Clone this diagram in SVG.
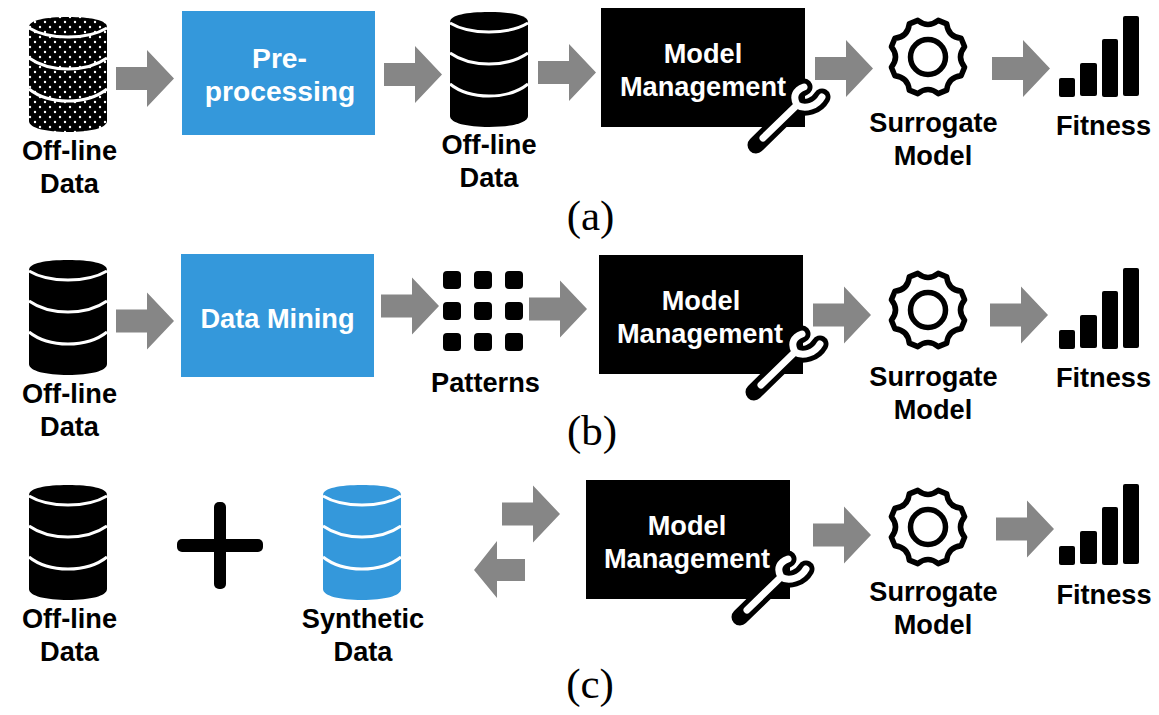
<svg xmlns="http://www.w3.org/2000/svg" width="1159" height="715" viewBox="0 0 1159 715">
<style>
text{font-family:"Liberation Sans",Arial,sans-serif;font-weight:700;font-size:27.200px;text-anchor:middle;fill:#000}
text.w{fill:#fff}
text.big{font-size:28.200px}
text.cap{font-family:"Liberation Serif","Times New Roman",serif;font-weight:400;font-size:43px}
.blue{fill:#3498db}
.box{fill:#000}
.arrow{fill:#868686}
</style>
<defs>
<pattern id="dots" width="10" height="10" patternUnits="userSpaceOnUse" patternTransform="translate(29 17)">
<rect width="10" height="10" fill="#000"/><circle cx="2" cy="3" r="1.200" fill="#fff"/><circle cx="7" cy="8" r="1.200" fill="#fff"/>
</pattern>
<path id="dbshape" d="M0 10C0 3 17 0 39 0S78 3 78 10V104C78 111 61 115 39 115S0 111 0 104Z"/>
<g id="dblines" fill="none" stroke="#fff" stroke-width="3">
<path d="M0 11C10 17 24 20 39 20S68 17 78 11"/>
<path d="M0 41C10 48 24 52 39 52S68 48 78 41"/>
<path d="M0 72C10 80 24 84 39 84S68 80 78 72"/>
</g>
<path id="arrow" d="M0 -11.500H31V-28.500L58 0L31 28.500V11.500H0Z"/>
<g id="gear" fill="none" stroke="#000" stroke-width="5.500" stroke-linejoin="round">
<path d="M36.600 10.200L33.100 18.700Q20.100 20.100 18.700 33.100L10.200 36.600Q0 28.400 -10.200 36.600L-18.700 33.100Q-20.100 20.100 -33.100 18.700L-36.600 10.200Q-28.400 0 -36.600 -10.200L-33.100 -18.700Q-20.100 -20.100 -18.700 -33.100L-10.200 -36.600Q0 -28.400 10.200 -36.600L18.700 -33.100Q20.100 -20.100 33.100 -18.700L36.600 -10.200Q28.400 0 36.600 10.200Z"/>
<circle r="17.500"/>
</g>
<g id="bars">
<rect x="0" y="62" width="16" height="19" rx="2"/>
<rect x="21" y="47" width="17" height="33" rx="2"/>
<rect x="43" y="23" width="16" height="58" rx="2"/>
<rect x="64" y="0" width="16" height="80" rx="2"/>
</g>
<g id="wrench" fill="none" stroke-linecap="round" stroke-linejoin="round">
<path stroke="#000" stroke-width="17" d="M0 0L41 -40C36 -49 40 -55 48 -58M41 -40C49 -35 61 -39 66 -48"/>
<path stroke="#fff" stroke-width="7" d="M7 -7L41 -40C36 -49 40 -55 48 -58M41 -40C49 -35 61 -39 66 -48"/>
</g>
<g id="dotgrid">
<rect x="0" y="0" width="18" height="18" rx="4"/><rect x="31" y="0" width="18" height="18" rx="4"/><rect x="62" y="0" width="18" height="18" rx="4"/>
<rect x="0" y="31" width="18" height="18" rx="4"/><rect x="31" y="31" width="18" height="18" rx="4"/><rect x="62" y="31" width="18" height="18" rx="4"/>
<rect x="0" y="62" width="18" height="18" rx="4"/><rect x="31" y="62" width="18" height="18" rx="4"/><rect x="62" y="62" width="18" height="18" rx="4"/>
</g>
</defs>

<g id="connectors" class="arrow">
<use href="#arrow" x="116" y="78.500"/>
<use href="#arrow" x="384" y="74.500"/>
<use href="#arrow" x="538" y="72.500"/>
<use href="#arrow" x="815" y="68.500"/>
<use href="#arrow" x="992" y="68.500"/>
<use href="#arrow" x="116" y="321"/>
<use href="#arrow" x="381" y="306"/>
<use href="#arrow" x="529" y="309"/>
<use href="#arrow" x="813" y="315"/>
<use href="#arrow" x="990" y="315"/>
<use href="#arrow" x="502" y="514"/>
<path d="M525 559H497V541L474 570L497 598V581H525Z"/>
<use href="#arrow" x="813" y="535"/>
<use href="#arrow" x="996" y="529"/>
</g>

<g id="a-db1"><use href="#dbshape" x="29" y="17" fill="url(#dots)"/><use href="#dblines" x="29" y="17"/><text x="69.500" y="160">Off-line</text><text x="69.500" y="193">Data</text></g>
<g id="a-pre"><rect class="blue" x="182" y="11" width="193" height="124"/><text class="w big" x="279.500" y="68">Pre-</text><text class="w big" x="280" y="101">processing</text></g>
<g id="a-db2"><use href="#dbshape" x="450" y="12"/><use href="#dblines" x="450" y="12"/><text x="489" y="154">Off-line</text><text x="489" y="187">Data</text></g>
<g id="a-mm"><rect class="box" x="601" y="8" width="204" height="119"/><text class="w" x="703" y="63">Model</text><text class="w" x="703" y="96">Management</text><use href="#wrench" x="756" y="145"/></g>
<g id="a-gear"><use href="#gear" x="928" y="57"/><text x="933.500" y="132">Surrogate</text><text x="933" y="165">Model</text></g>
<g id="a-fit"><use href="#bars" x="1059" y="16"/><text x="1103.500" y="135">Fitness</text></g>
<text id="a-cap" class="cap" x="590.500" y="230">(a)</text>

<g id="b-db"><use href="#dbshape" x="29" y="260"/><use href="#dblines" x="29" y="260"/><text x="69.500" y="403">Off-line</text><text x="69.500" y="436">Data</text></g>
<g id="b-dm"><rect class="blue" x="181" y="254" width="193" height="123"/><text class="w" x="277.500" y="328">Data Mining</text></g>
<g id="b-pat"><use href="#dotgrid" x="443" y="271"/><text x="485.500" y="392">Patterns</text></g>
<g id="b-mm"><rect class="box" x="599" y="255" width="204" height="119"/><text class="w" x="701" y="310">Model</text><text class="w" x="700" y="343">Management</text><use href="#wrench" x="754" y="392"/></g>
<g id="b-gear"><use href="#gear" x="928" y="310"/><text x="933.500" y="386">Surrogate</text><text x="933" y="419">Model</text></g>
<g id="b-fit"><use href="#bars" x="1059" y="268"/><text x="1103.500" y="387">Fitness</text></g>
<text id="b-cap" class="cap" x="592" y="445">(b)</text>

<g id="c-db1"><use href="#dbshape" x="29" y="485"/><use href="#dblines" x="29" y="485"/><text x="69.500" y="628">Off-line</text><text x="69.500" y="661">Data</text></g>
<g id="c-plus"><rect x="177" y="539" width="86" height="13" rx="5"/><rect x="214" y="502" width="12" height="87" rx="5"/></g>
<g id="c-db2"><use href="#dbshape" class="blue" x="323" y="485"/><use href="#dblines" x="323" y="485"/><text x="363" y="628">Synthetic</text><text x="363" y="661">Data</text></g>
<g id="c-mm"><rect class="box" x="586" y="480" width="204" height="119"/><text class="w" x="687" y="535">Model</text><text class="w" x="687" y="568">Management</text><use href="#wrench" x="740" y="617"/></g>
<g id="c-gear"><use href="#gear" x="928" y="527"/><text x="933.500" y="601">Surrogate</text><text x="933" y="634">Model</text></g>
<g id="c-fit"><use href="#bars" x="1059" y="484"/><text x="1104" y="604">Fitness</text></g>
<text id="c-cap" class="cap" x="590" y="698">(c)</text>
</svg>
